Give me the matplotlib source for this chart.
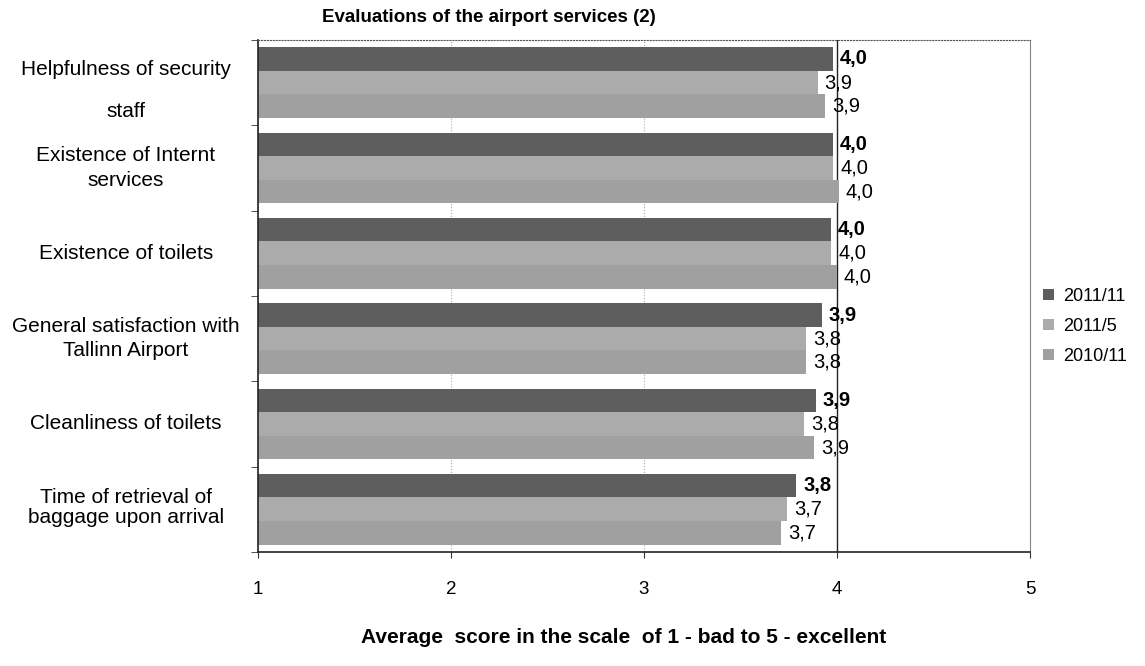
import numpy as np
import matplotlib
matplotlib.use("Agg")
import matplotlib.pyplot as plt
from matplotlib.transforms import blended_transform_factory

plt.rcParams['font.family'] = ['Liberation Sans', 'DejaVu Sans']

# Average scores per service, top to bottom
categories = [
    "Helpfulness of security\nstaff",
    "Existence of Internt\nservices",
    "Existence of toilets",
    "General satisfaction with\nTallinn Airport",
    "Cleanliness of toilets",
    "Time of retrieval of\nbaggage upon arrival",
]
series_names = ["2011/11", "2011/5", "2010/11"]
scores_2011_11 = [3.98, 3.98, 3.97, 3.92, 3.89, 3.79]
scores_2011_5 = [3.90, 3.98, 3.97, 3.84, 3.83, 3.74]
scores_2010_11 = [3.94, 4.01, 4.00, 3.84, 3.88, 3.71]
x_ticks = [1, 2, 3, 4, 5]

series = [scores_2011_11, scores_2011_5, scores_2010_11]
colors = ["#5e5e5e", "#ababab", "#a0a0a0"]
weights = ["bold", "normal", "normal"]

# line spacing / vertical nudge of the wrapped category labels
label_spacing = [2.5, 1.35, 1.0, 1.35, 1.0, 1.05]
label_shift = [0.09, 0.0, 0.0, 0.0, 0.0, -0.02]

fig = plt.figure(figsize=(11.45, 6.66), dpi=100)
ax = fig.add_axes([0.2253, 0.1712, 0.6743, 0.7688])

y = np.arange(len(categories))
h = 0.277
offsets = [-h, 0, h]

for vals, col, wt, off, name in zip(series, colors, weights, offsets, series_names):
    bars = ax.barh(y + off, [v - x_ticks[0] for v in vals], left=x_ticks[0],
                   height=h, color=col, label=name, zorder=2)
    for b, v in zip(bars, vals):
        ax.annotate(f"{v:.1f}".replace(".", ","),
                    xy=(b.get_x() + b.get_width(), b.get_y() + b.get_height() / 2),
                    xytext=(5, 0), textcoords="offset points",
                    ha="left", va="center", fontsize=14.5, fontweight=wt, zorder=4)

ax.set_xlim(x_ticks[0], x_ticks[-1])
ax.set_ylim(len(categories) - 0.5, -0.5)
ax.set_xticks(x_ticks)
ax.set_xticklabels([str(t) for t in x_ticks], fontsize=13.5)
ax.tick_params(axis="x", length=4, pad=17, color="#333333")

# category boundaries as small ticks on the left
ax.set_yticks([])
ax.set_yticks(np.arange(len(categories) + 1) - 0.5, minor=True)
ax.tick_params(axis="y", which="minor", length=5, color="#333333", labelleft=False)

# category labels centred in the left margin
trans = blended_transform_factory(fig.transFigure, ax.transData)
for i, cat in enumerate(categories):
    ax.text(0.110, i + label_shift[i], cat, transform=trans,
            ha="center", va="center", fontsize=15, linespacing=label_spacing[i])

ax.grid(axis="x", color="#aaaaaa", linestyle=":", linewidth=0.8, zorder=1)
gl = ax.xaxis.get_gridlines()
gl[3].set_color("#222222")
gl[3].set_linestyle("-")
gl[3].set_linewidth(1.0)
gl[3].set_zorder(3)

for side in ["left", "bottom"]:
    ax.spines[side].set_color("#222222")
    ax.spines[side].set_linewidth(1.2)
ax.spines["top"].set_color("#555555")
ax.spines["top"].set_linestyle(":")
ax.spines["right"].set_color("#888888")
ax.spines["right"].set_linestyle((0, (2, 1)))

ax.set_xlabel("Average  score in the scale  of 1 - bad to 5 - excellent",
              fontsize=15, fontweight="bold")
ax.xaxis.set_label_coords(0.473, -0.148)
fig.text(0.427, 0.973, "Evaluations of the airport services (2)",
         ha="center", va="center", fontsize=13.5, fontweight="bold")

fig.legend(loc="center left", bbox_to_anchor=(0.897, 0.51), frameon=False,
           fontsize=13, handlelength=0.6, handleheight=0.6,
           handletextpad=0.5, labelspacing=0.72)

fig.savefig("out.png", dpi=100, facecolor="white")
